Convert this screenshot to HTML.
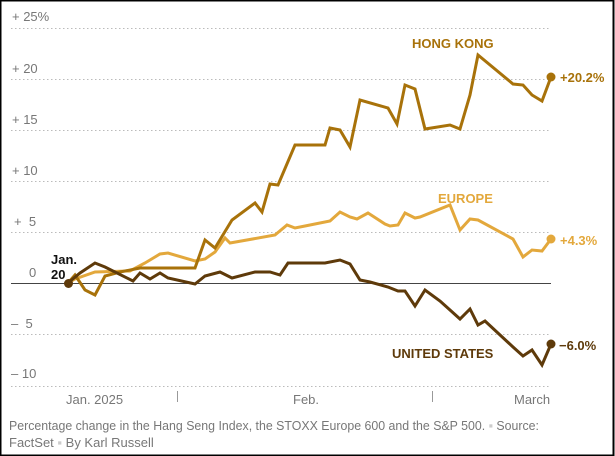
<!DOCTYPE html>
<html><head><meta charset="utf-8"><style>
html,body{margin:0;padding:0;background:#fff}
body{width:615px;height:456px;overflow:hidden}
svg{display:block}
text{font-family:"Liberation Sans",sans-serif}
</style></head><body>
<svg width="615" height="456" viewBox="0 0 615 456">
<rect x="0.5" y="0.5" width="613" height="455" fill="#fff" stroke="#000" stroke-width="2"/>
<g stroke="#bbb" stroke-width="1" stroke-dasharray="1.5,2.5">
<line x1="11" x2="550" y1="28.5" y2="28.5"/>
<line x1="11" x2="550" y1="79.5" y2="79.5"/>
<line x1="11" x2="550" y1="130.5" y2="130.5"/>
<line x1="11" x2="550" y1="181.5" y2="181.5"/>
<line x1="11" x2="550" y1="232.5" y2="232.5"/>
<line x1="11" x2="550" y1="334.5" y2="334.5"/>
<line x1="11" x2="550" y1="386.5" y2="386.5"/>
</g>
<line x1="11" x2="551" y1="283.5" y2="283.5" stroke="#444" stroke-width="1"/>
<g fill="#777" font-size="13">
<text x="12" y="21">+ 25%</text>
<text x="12" y="73">+ 20</text>
<text x="12" y="124">+ 15</text>
<text x="12" y="175">+ 10</text>
<text x="14" y="226">+ &#160;5</text>
<text x="29" y="277">0</text>
<text x="11" y="328">– &#160;5</text>
<text x="11" y="378">– 10</text>
<text x="66" y="404">Jan. 2025</text>
<text x="293" y="404">Feb.</text>
<text x="514" y="404">March</text>
</g>
<g stroke="#999" stroke-width="1"><line x1="177.5" x2="177.5" y1="391" y2="402"/><line x1="432.5" x2="432.5" y1="391" y2="402"/></g>
<g fill="none" stroke-width="3" stroke-linejoin="miter">
<polyline stroke="#e3a83c" points="68,283 75,279 95,272 130,271 145,263 160,254 168,253 195,261 205,259 215,252 225,238 230,243 275,235 287,225 295,228 305,226 330,221 340,212 350,217 357,219 368,213 385,224 390,226 398,225 405,213 415,218 420,217 450,205 460,230 470,219 478,220 513,239 523,257 532,250 542,251 551,239"/>
<polyline stroke="#a8720a" points="68,283 75,275 85,290 95,295 105,276 120,272 140,268 160,268 195,268 205,240 215,248 232,220 255,203 262,212 270,184 278,185 295,145 325,145 330,128 340,130 350,147 360,100 388,108 397,124 405,85 415,89 425,129 450,125 460,129 470,95 478,55 513,84 523,85 532,95 542,101 551,77"/>
<polyline stroke="#5e3a0a" points="68,283 80,273 95,263 105,267 133,281 140,273 150,279 160,273 168,278 195,284 205,276 220,272 232,278 255,272 270,272 280,275 288,263 325,263 340,260 350,264 360,280 370,282 388,287 398,291 405,291 415,306 425,290 440,301 450,310 460,319 470,309 478,325 485,321 513,347 523,356 532,350 542,365 551,344"/>
</g>
<circle cx="68.5" cy="283.5" r="4.5" fill="#5e3a0a"/>
<circle cx="551" cy="77" r="4.5" fill="#a8720a"/>
<circle cx="551" cy="239" r="4.5" fill="#e3a83c"/>
<circle cx="551" cy="344" r="4.5" fill="#5e3a0a"/>
<g font-weight="bold" font-size="13">
<text x="412" y="48" fill="#a8720a">HONG KONG</text>
<text x="438" y="203" fill="#e3a83c">EUROPE</text>
<text x="392" y="358" fill="#5e3a0a" text-anchor="start">UNITED STATES</text>
<text x="51" y="264" fill="#111">Jan.</text>
<text x="51" y="279" fill="#111">20</text>
<text x="560" y="82" fill="#a8720a">+20.2%</text>
<text x="560" y="245" fill="#e3a83c">+4.3%</text>
<text x="559" y="350" fill="#5e3a0a">−6.0%</text>
</g>
<g fill="#777" font-size="13">
<text x="9" y="430" textLength="530" lengthAdjust="spacingAndGlyphs">Percentage change in the Hang Seng Index, the STOXX Europe 600 and the S&amp;P 500. <tspan fill="#ccc">▪</tspan> Source:</text>
<text x="9" y="447">FactSet <tspan fill="#ccc">▪</tspan> By Karl Russell</text>
</g>
</svg>
</body></html>
